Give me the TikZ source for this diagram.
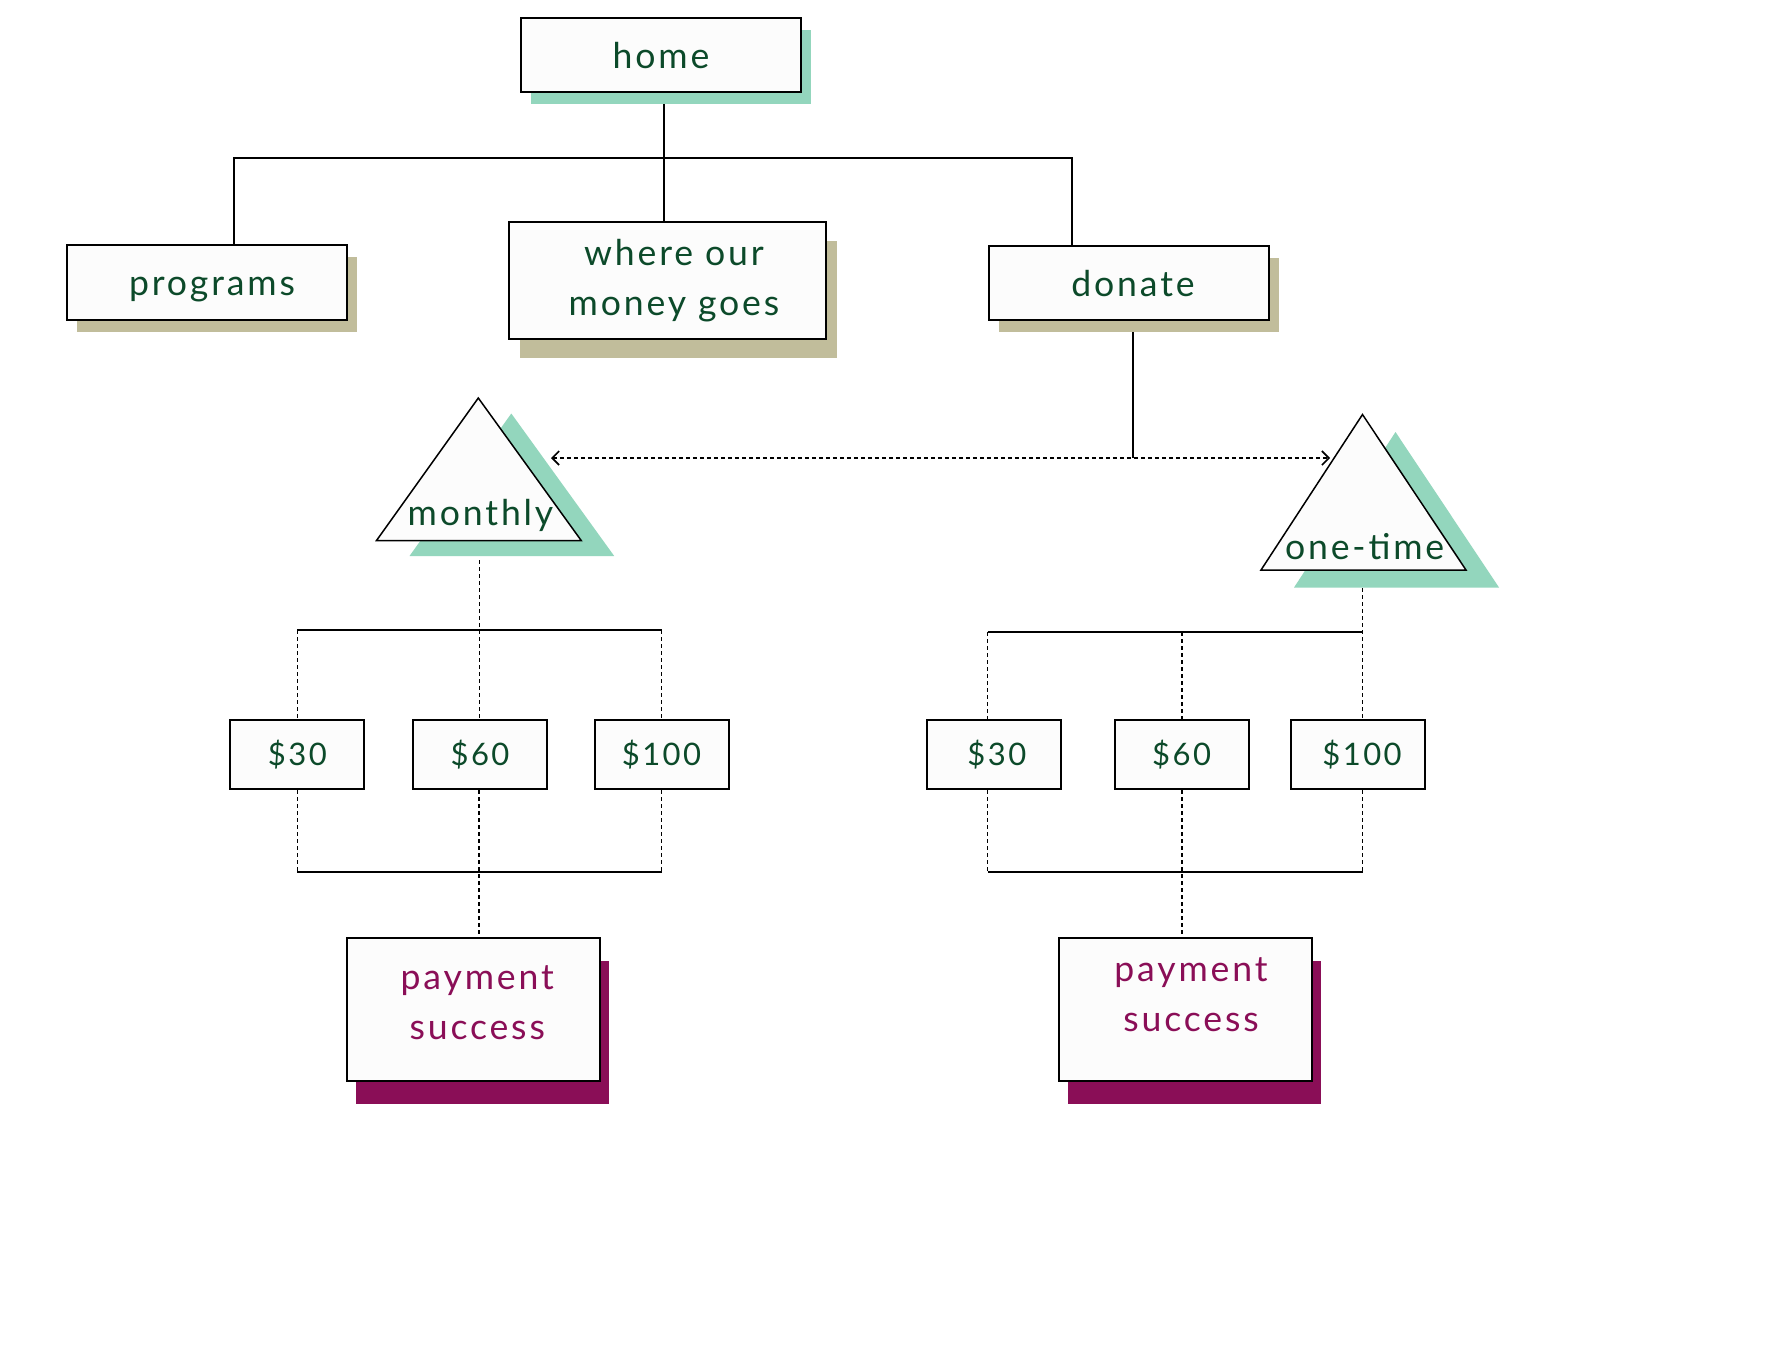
\documentclass[tikz,border=0pt]{standalone}
\usepackage{fontspec}
\setmainfont{Lato}[LetterSpace=8]
\usetikzlibrary{arrows.meta,shadows,backgrounds}
\definecolor{dgreen}{HTML}{0C4A2A}
\definecolor{mint}{HTML}{93D6BD}
\definecolor{tanshade}{HTML}{C1BD9B}
\definecolor{plum}{HTML}{8A0E57}
\definecolor{boxfill}{HTML}{FCFCFC}
\newcommand\dmMain{\fontsize{17.8pt}{25pt}\selectfont}
\newcommand\dmSmall{\fontsize{15.5pt}{20pt}\selectfont}
\newcommand\dmPush[1]{\hspace*{#1}}
\begin{document}
\begin{tikzpicture}[x=0.5pt,y=-0.5pt,
  tbox/.style={draw=black, line width=1pt, fill=boxfill, inner sep=0pt, text=dgreen, font=\dmMain},
  boxshadow/.style n args={3}{drop shadow={shadow xshift=#1, shadow yshift=#2, fill=#3, opacity=1}},
  oneline/.style={text height=13pt, text depth=0pt},
  amount/.style={tbox, minimum width=67pt, minimum height=34.5pt, font=\dmSmall, text height=11.15pt, text depth=0pt},
  paybox/.style={tbox, minimum width=126.5pt, minimum height=71.5pt, text=plum, align=center, text depth=4pt, boxshadow={4.5pt}{-11.5pt}{plum}},
  tri/.style={draw=black, line width=0.75pt, fill=boxfill, line join=miter},
  trilabel/.style={anchor=base, inner sep=0pt, text=dgreen, font=\dmMain},
  conn/.style={draw=black, line width=0.75pt},
  dotconn/.style={draw=black, line width=0.9pt, dash pattern=on 2pt off 1.5pt},
  dotarrow/.style={dotconn, line width=0.8pt, {Straight Barb[length=3.5pt,width=7pt]}-{Straight Barb[length=3.5pt,width=7pt]}}
]
\useasboundingbox (0,0) rectangle (1773,1362);

% top level boxes
\node[tbox, oneline, boxshadow={5pt}{-6pt}{mint}, minimum width=140pt, minimum height=37pt] (home) at (661,55) {home};
\node[tbox, oneline, boxshadow={5pt}{-5.75pt}{tanshade}, minimum width=140pt, minimum height=37.5pt] (programs) at (207,282.5) {\dmPush{5pt}programs};
\node[tbox, align=center, text height=38.5pt, text depth=4pt, boxshadow={5.5pt}{-9.25pt}{tanshade}, minimum width=158.5pt, minimum height=58.5pt] (where) at (667.5,280.5) {\dmPush{6.5pt}where our\\\dmPush{6.5pt}money goes};
\node[tbox, oneline, boxshadow={5pt}{-6pt}{tanshade}, minimum width=140pt, minimum height=37pt] (donate) at (1129,283) {\dmPush{4pt}donate};

% triangles
\coordinate (mApex) at (478.3,398);
\coordinate (mBL) at (376.5,540.5);
\coordinate (mBR) at (581.2,540.5);
\fill[mint] ([shift={(33,15.5)}]mApex) -- ([shift={(33,15.5)}]mBL) -- ([shift={(33,15.5)}]mBR) -- cycle;
\path[tri] (mApex) -- (mBL) -- (mBR) -- cycle;
\node[trilabel] (monthly) at (480.5,525) {monthly};

\coordinate (oApex) at (1362.5,414.5);
\coordinate (oBL) at (1261,570);
\coordinate (oBR) at (1466,570);
\fill[mint] ([shift={(33,17.5)}]oApex) -- ([shift={(33,17.5)}]oBL) -- ([shift={(33,17.5)}]oBR) -- cycle;
\path[tri] (oApex) -- (oBL) -- (oBR) -- cycle;
\node[trilabel] (onetime) at (1364.6,559) {one-time};

% amount boxes
\node[amount] (m30) at (297.4,754.7) {\$30};
\node[amount] (m60) at (480,754.7) {\$60};
\node[amount] (m100) at (661.5,754.7) {\$100};
\node[amount] (o30) at (993.9,754.7) {\dmPush{3pt}\$30};
\node[amount] (o60) at (1181.6,754.7) {\$60};
\node[amount] (o100) at (1358,754.7) {\dmPush{4pt}\$100};

% payment boxes
\node[paybox, text height=33.5pt] (payM) at (473.2,1009.7) {\dmPush{4pt}payment\\\dmPush{4pt}success};
\node[paybox, text height=25.5pt] (payO) at (1185,1009.7) {\dmPush{6pt}payment\\\dmPush{6pt}success};

% connector points
\coordinate (hub) at (664,158);
\coordinate (hubL) at (234,158);
\coordinate (hubR) at (1072,158);
\coordinate (split) at (1133,458);
\coordinate (mTip) at (551,458);
\coordinate (oTip) at (1330,458);
\coordinate (mStem) at (479.4,560);
\coordinate (oStem) at (1362.5,588);
\coordinate (oLx) at (987.5,0);
\coordinate (mBar) at (0,630);
\coordinate (oBar) at (0,632);
\coordinate (botBar) at (0,872);

\begin{scope}[on background layer]
\fill[white] (0,0) rectangle (1773,1362);
% home tree
\draw[conn] (home.south -| hub) -- (hub |- where.north);
\draw[conn] (hubL |- programs.north) -- (hubL) -- (hubR) -- (hubR |- donate.north);
% donate split
\draw[conn] (split |- donate.south) -- (split);
\draw[dotarrow] (mTip) -- (oTip);
% monthly group
\draw[dotconn] (mStem) -- (mStem |- m60.north);
\draw[conn] (m30 |- mBar) -- (m100 |- mBar);
\draw[dotconn] (m30 |- mBar) -- (m30.north);
\draw[dotconn] (m100 |- mBar) -- (m100.north);
\draw[dotconn] (m30.south) -- (m30 |- botBar);
\draw[dotconn] (m100.south) -- (m100 |- botBar);
\draw[conn] (m30 |- botBar) -- (m100 |- botBar);
\draw[dotconn] ([xshift=-0.6pt]m60.south) -- ([xshift=-0.6pt]m60.south |- payM.north);
% one-time group
\draw[dotconn] (oStem) -- (oStem |- o100.north);
\draw[conn] (oLx |- oBar) -- (oStem |- oBar);
\draw[dotconn] (oLx |- oBar) -- (oLx |- o30.north);
\draw[dotconn] (o60 |- oBar) -- (o60.north);
\draw[dotconn] (oLx |- o30.south) -- (oLx |- botBar);
\draw[dotconn] (oStem |- o100.south) -- (oStem |- botBar);
\draw[conn] (oLx |- botBar) -- (oStem |- botBar);
\draw[dotconn] (o60.south) -- (o60.south |- payO.north);
\end{scope}
\end{tikzpicture}
\end{document}
